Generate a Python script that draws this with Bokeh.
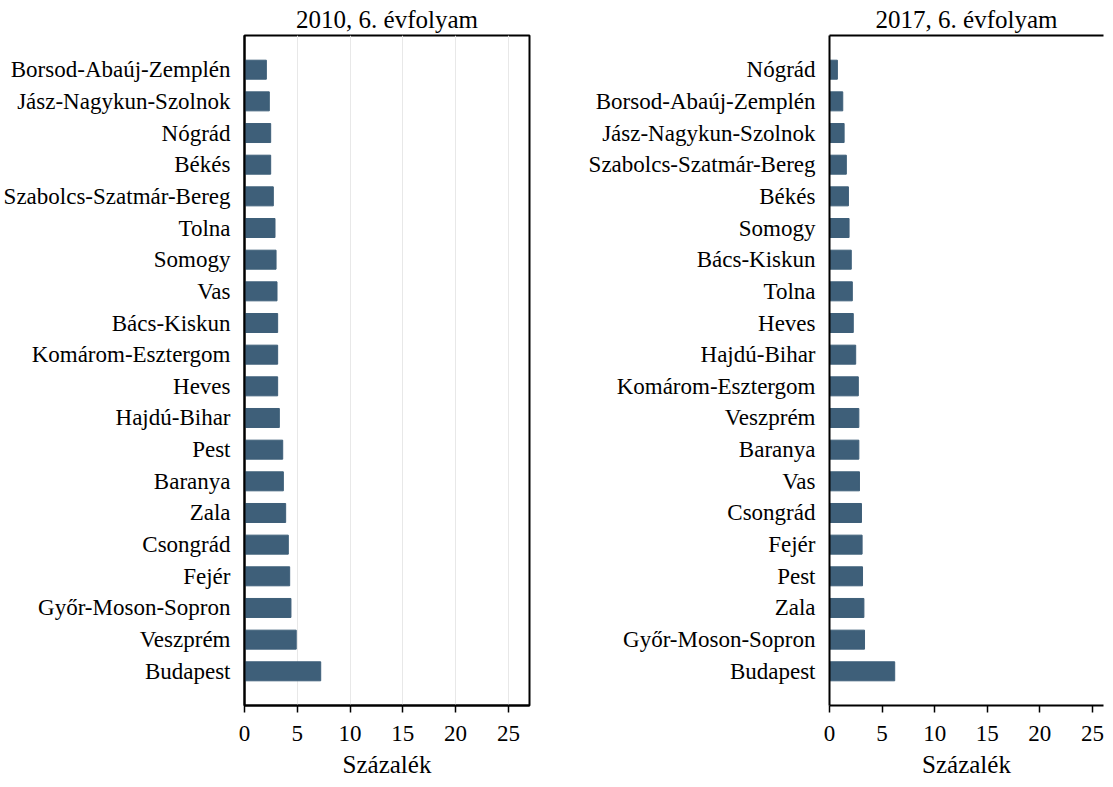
from bokeh.plotting import figure
from bokeh.layouts import row
from bokeh.models import FactorRange, Range1d, FixedTicker, LinearAxis
from bokeh.embed import file_html
from bokeh.resources import INLINE

cats_2010 = ["Borsod-Abaúj-Zemplén", "Jász-Nagykun-Szolnok", "Nógrád", "Békés",
             "Szabolcs-Szatmár-Bereg", "Tolna", "Somogy", "Vas", "Bács-Kiskun",
             "Komárom-Esztergom", "Heves", "Hajdú-Bihar", "Pest", "Baranya", "Zala",
             "Csongrád", "Fejér", "Győr-Moson-Sopron", "Veszprém", "Budapest"]
vals_2010 = [2.07, 2.35, 2.48, 2.48, 2.73, 2.89, 2.99, 3.08, 3.14, 3.14, 3.14,
             3.30, 3.62, 3.68, 3.90, 4.15, 4.28, 4.40, 4.90, 7.22]

cats_2017 = ["Nógrád", "Borsod-Abaúj-Zemplén", "Jász-Nagykun-Szolnok",
             "Szabolcs-Szatmár-Bereg", "Békés", "Somogy", "Bács-Kiskun", "Tolna",
             "Heves", "Hajdú-Bihar", "Komárom-Esztergom", "Veszprém", "Baranya",
             "Vas", "Csongrád", "Fejér", "Pest", "Zala", "Győr-Moson-Sopron", "Budapest"]
vals_2017 = [0.75, 1.26, 1.39, 1.60, 1.80, 1.86, 2.07, 2.17, 2.26, 2.49, 2.74,
             2.79, 2.79, 2.85, 3.04, 3.10, 3.14, 3.27, 3.33, 6.20]

x_ticks = [0, 5, 10, 15, 20, 25]
titles = ["2010, 6. évfolyam", "2017, 6. évfolyam"]
x_label = "Százalék"

FONT = "Liberation Serif"
BAR = "#3e5f79"


def make(cats, vals, title, x_end, frame_w, grid, box, mb_left, mb_right):
    p = figure(y_range=FactorRange(factors=list(reversed(cats)), range_padding=0.058),
               x_range=Range1d(0, x_end), frame_width=frame_w, frame_height=670,
               output_backend="svg", toolbar_location=None, title=title,
               min_border_left=mb_left, min_border_right=mb_right,
               min_border_top=0, min_border_bottom=0)
    p.hbar(y=cats, right=vals, height=0.6, color=BAR)
    p.title.align = "center"
    p.title.text_font = FONT
    p.title.text_font_style = "normal"
    p.title.text_font_size = "25px"
    p.title.text_color = "black"
    p.title.standoff = 6
    for ax in (p.xaxis[0], p.yaxis[0]):
        ax.axis_line_width = 2
        ax.axis_line_color = "black"
        ax.major_label_text_font = FONT
        ax.major_label_text_font_size = "23px"
        ax.major_label_text_color = "black"
        ax.minor_tick_line_color = None
    p.xaxis.ticker = FixedTicker(ticks=x_ticks)
    p.xaxis.major_tick_out = 7
    p.xaxis.major_tick_in = 0
    p.xaxis.major_tick_line_width = 1.5
    p.xaxis.major_tick_line_color = "black"
    p.xaxis.major_label_standoff = 13
    p.xaxis.axis_label = x_label
    p.xaxis.axis_label_text_font = FONT
    p.xaxis.axis_label_text_font_style = "normal"
    p.xaxis.axis_label_text_font_size = "25px"
    p.xaxis.axis_label_text_color = "black"
    p.xaxis.axis_label_standoff = 7
    p.yaxis.major_tick_line_color = None
    p.yaxis.major_label_standoff = 8
    p.ygrid.grid_line_color = None
    if grid:
        p.xgrid.grid_line_color = "#e8e8e8"
        p.xgrid.grid_line_width = 1
    else:
        p.xgrid.grid_line_color = None
    if box:
        p.outline_line_color = "black"
        p.outline_line_width = 2
        p.outline_line_alpha = 1
    else:
        p.outline_line_color = None
        top = LinearAxis(ticker=FixedTicker(ticks=[]), major_label_text_font_size="0px",
                         major_tick_line_color=None, minor_tick_line_color=None,
                         axis_line_width=2, axis_line_color="black")
        p.add_layout(top, "above")
    return p


p1 = make(cats_2010, vals_2010, titles[0], 27, 285, True, True, 5, 56)
p2 = make(cats_2017, vals_2017, titles[1], 26.05, 274, False, False, 5, 1)

layout = row(p1, p2)
open("out.html", "w").write(file_html(layout, INLINE))
